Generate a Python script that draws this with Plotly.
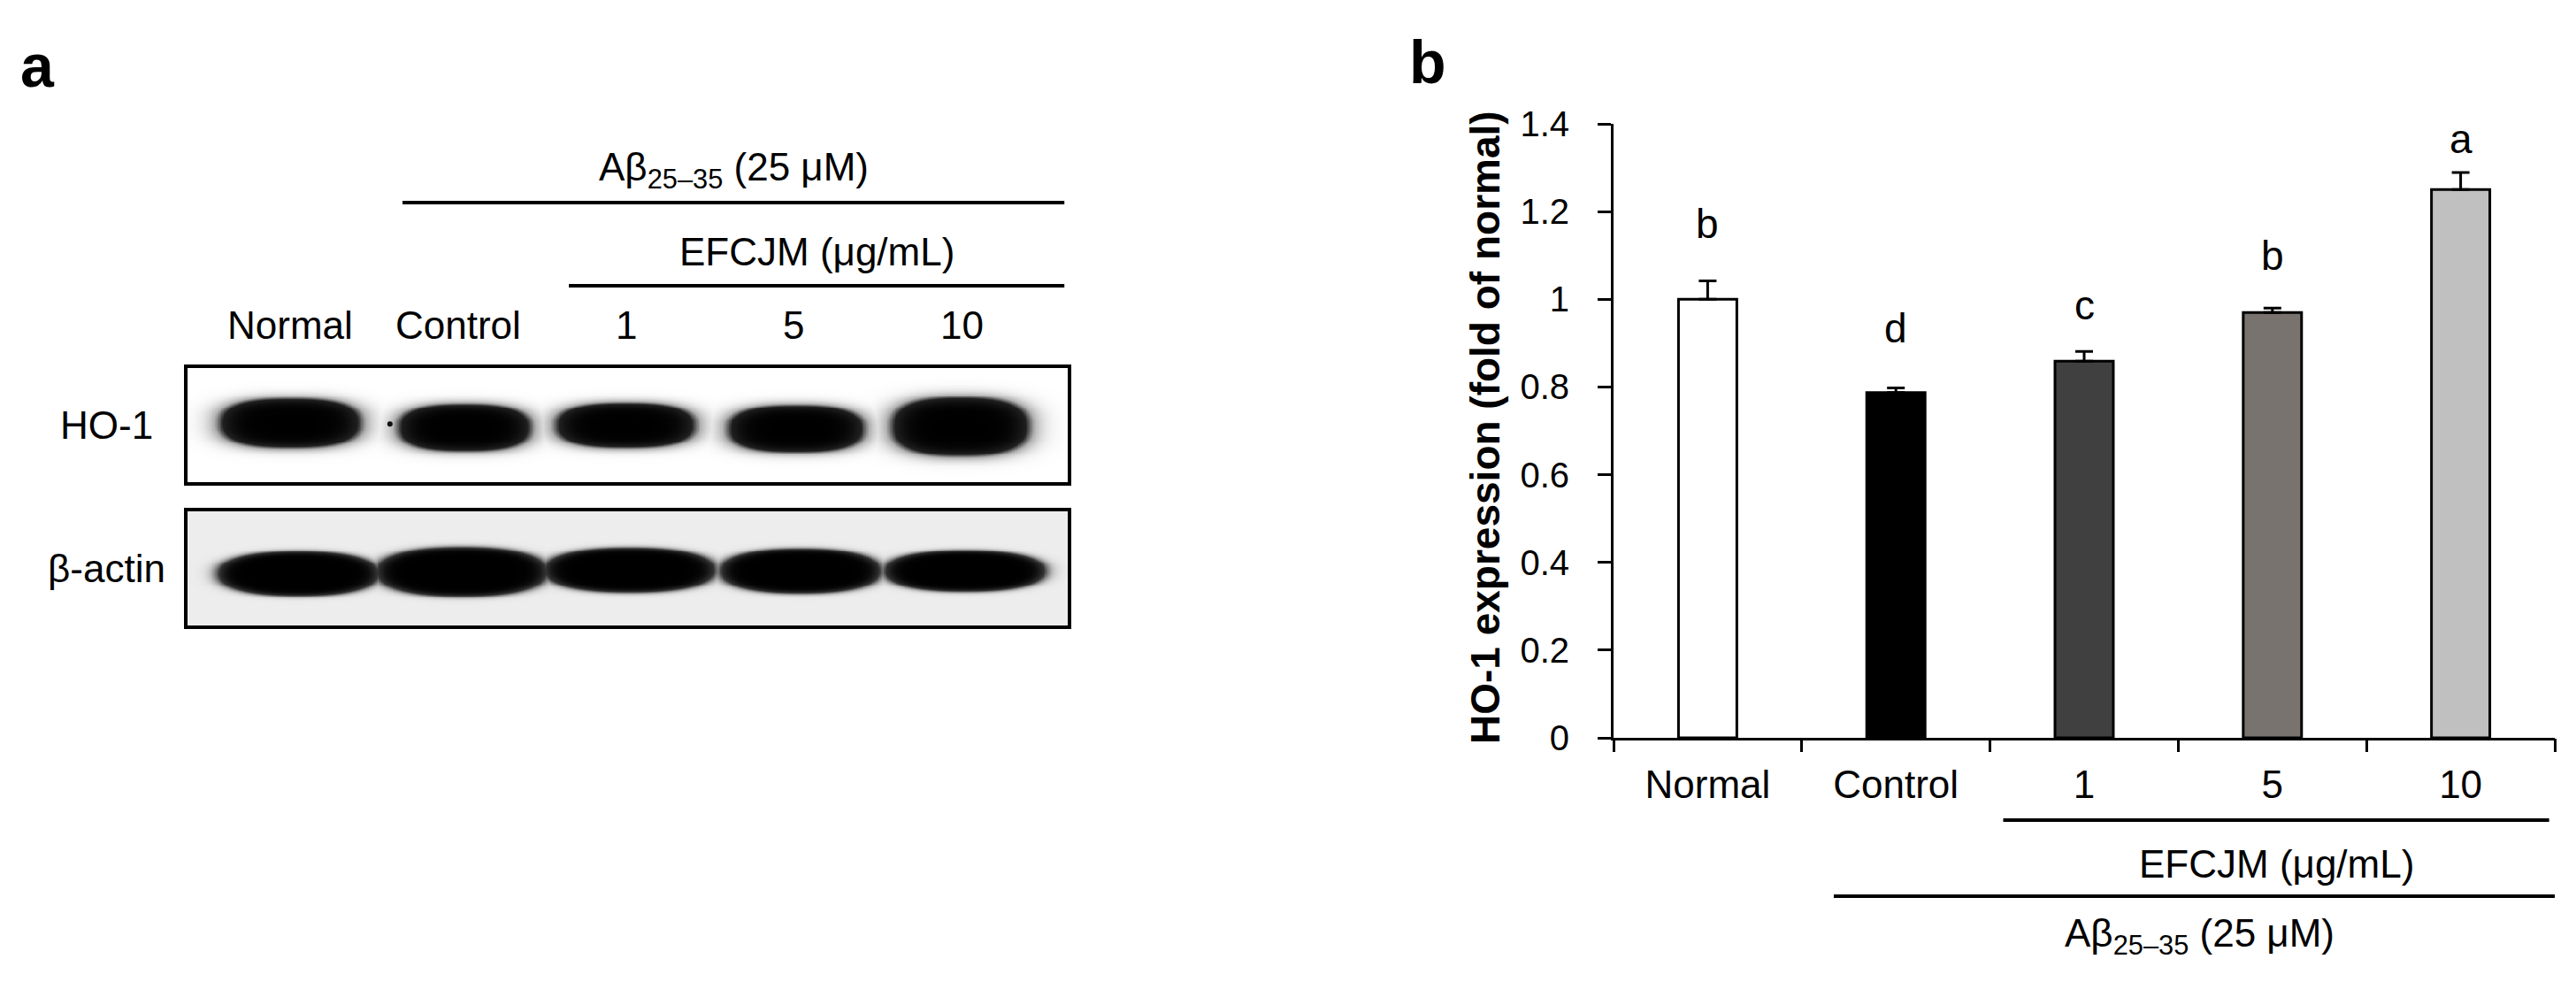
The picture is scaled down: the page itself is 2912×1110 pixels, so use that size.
import numpy as np
import plotly.graph_objects as go

# ---------------- data ----------------
lanes = ["Normal", "Control", "1", "5", "10"]
ho1_mean = [1.00, 0.787, 0.859, 0.970, 1.250]
ho1_sem = [0.042, 0.011, 0.022, 0.010, 0.039]
sig_letters = ["b", "d", "c", "b", "a"]
letter_y = [1.172, 0.934, 0.986, 1.099, 1.366]
bar_colors = ["#ffffff", "#000000", "#404040", "#78736f", "#c0c0c0"]
y_ticks = [0, 0.2, 0.4, 0.6, 0.8, 1.0, 1.2, 1.4]
abeta_lanes = ["Control", "1", "5", "10"]
efcjm_lanes = ["1", "5", "10"]
abeta_label = "Aβ<sub>25–35</sub> (25 μM)"
efcjm_label = "EFCJM (μg/mL)"
blot_rows = ["HO-1", "β-actin"]

# western blot band readings (lane offset, half width, centre height, half height)
ho1_band_shift = [0.0, 1.037, 1.995, 3.011, 3.989]
ho1_band_halfw = [0.41, 0.385, 0.405, 0.395, 0.40]
ho1_band_yc = [0.52, 0.48, 0.50, 0.47, 0.49]
ho1_band_halfh = [0.21, 0.20, 0.19, 0.20, 0.25]
actin_band_shift = [0.047, 1.021, 2.02, 3.037, 4.016]
actin_band_halfw = [0.47, 0.50, 0.50, 0.47, 0.47]
actin_band_yc = [0.457, 0.473, 0.488, 0.48, 0.48]
actin_band_halfh = [0.19, 0.21, 0.19, 0.19, 0.175]

FONT = "Arial, Liberation Sans, sans-serif"
W, H = 2912, 1110


def py(p):
    return 1 - p / H


def px(p):
    return p / W


def band_image(xs, ys, shift, hw, yc, hh, soft, p):
    X, Y = np.meshgrid(xs, ys)
    z = np.zeros_like(X)
    for c, w, y0, h in zip(shift, hw, yc, hh):
        r = (np.abs((X - c) / w) ** p + np.abs((Y - y0) / h) ** p) ** (1.0 / p)
        v = 1.0 / (1.0 + np.exp((r - 1.0) / soft))
        z = np.maximum(z, v)
    return z


def txt(**kw):
    base = dict(showarrow=False, xanchor="center", yanchor="middle")
    base.update(kw)
    return base


fig = go.Figure()

# ---------------- panel b: bar chart ----------------
x_idx = list(range(len(lanes)))
fig.add_trace(go.Bar(
    x=x_idx, y=ho1_mean, width=0.31,
    marker=dict(color=bar_colors, line=dict(color="black", width=3)),
    error_y=dict(type="data", array=ho1_sem, arrayminus=[0] * len(lanes),
                 symmetric=False, color="black", thickness=3, width=10),
    xaxis="x", yaxis="y", showlegend=False, hoverinfo="y",
))

for i, (letter, yl) in enumerate(zip(sig_letters, letter_y)):
    fig.add_annotation(**txt(x=i, y=yl, xref="x", yref="y", text=letter,
                             font=dict(family=FONT, size=46, color="black")))

# ---------------- panel a: western blot ----------------
xmin, xmax = -0.61, 4.63
xs = np.linspace(xmin, xmax, 700)
ys = np.linspace(0, 1, 140)
z_ho1 = band_image(xs, ys, ho1_band_shift, ho1_band_halfw, ho1_band_yc,
                   ho1_band_halfh, 0.12, 2.6)
z_act = band_image(xs, ys, actin_band_shift, actin_band_halfw, actin_band_yc,
                   actin_band_halfh, 0.06, 2.3)

fig.add_trace(go.Heatmap(x=xs, y=ys, z=z_ho1, xaxis="x2", yaxis="y2",
                         zmin=0, zmax=1, zsmooth="best", showscale=False,
                         colorscale=[[0, "#ffffff"], [0.3, "#b0b0b0"], [0.55, "#202020"],
                                     [1, "#000000"]],
                         hoverinfo="skip"))
fig.add_trace(go.Heatmap(x=xs, y=ys, z=z_act, xaxis="x3", yaxis="y3",
                         zmin=0, zmax=1, zsmooth="best", showscale=False,
                         colorscale=[[0, "#ededed"], [0.5, "#333333"], [1, "#000000"]],
                         hoverinfo="skip"))
# small speck on the HO-1 membrane
fig.add_trace(go.Scatter(x=[0.595], y=[0.51], mode="markers", xaxis="x2", yaxis="y2",
                         marker=dict(size=6, color="#111111"), showlegend=False,
                         hoverinfo="skip"))

blot_x_domain = [px(212), px(1207)]
blot_axis = dict(range=[xmin, xmax], domain=blot_x_domain, showline=True,
                 mirror=True, linewidth=4, linecolor="black", showticklabels=False,
                 ticks="", showgrid=False, zeroline=False, fixedrange=True,
                 automargin=False)
blot_yaxis = dict(range=[0, 1], showline=True, mirror=True, linewidth=4,
                  linecolor="black", showticklabels=False, ticks="",
                  showgrid=False, zeroline=False, fixedrange=True, automargin=False)

# lane labels
for i, lane in enumerate(lanes):
    fig.add_annotation(**txt(x=i, y=py(368), xref="x2", yref="paper", text=lane,
                             font=dict(family=FONT, size=44, color="black")))

# row labels
for name, yc in zip(blot_rows, [480, 642]):
    fig.add_annotation(**txt(x=px(120), y=py(yc), xref="paper", yref="paper", text=name,
                             font=dict(family=FONT, size=44, color="black")))

# group lines panel a
a_x0 = lanes.index(abeta_lanes[0]) - 0.33
e_x0 = lanes.index(efcjm_lanes[0]) - 0.34
a_x1 = 4.61
fig.add_shape(type="line", xref="x2", yref="paper", x0=a_x0, x1=a_x1,
              y0=py(229), y1=py(229), line=dict(color="black", width=4))
fig.add_shape(type="line", xref="x2", yref="paper", x0=e_x0, x1=a_x1,
              y0=py(323), y1=py(323), line=dict(color="black", width=4))
fig.add_annotation(**txt(x=(a_x0 + a_x1) / 2, y=py(192), xref="x2", yref="paper",
                         text=abeta_label,
                         font=dict(family=FONT, size=44, color="black")))
fig.add_annotation(**txt(x=(e_x0 + a_x1) / 2, y=py(284), xref="x2", yref="paper",
                         text=efcjm_label,
                         font=dict(family=FONT, size=44, color="black")))

# group lines panel b
b_a0 = lanes.index(abeta_lanes[0]) - 0.33
b_e0 = lanes.index(efcjm_lanes[0]) - 0.43
b_a1 = len(lanes) - 0.5
b_e1 = len(lanes) - 0.53
fig.add_shape(type="line", xref="x", yref="paper", x0=b_a0, x1=b_a1,
              y0=py(1013), y1=py(1013), line=dict(color="black", width=4))
fig.add_shape(type="line", xref="x", yref="paper", x0=b_e0, x1=b_e1,
              y0=py(927), y1=py(927), line=dict(color="black", width=4))
fig.add_annotation(**txt(x=(b_e0 + b_e1) / 2, y=py(976), xref="x", yref="paper",
                         text=efcjm_label,
                         font=dict(family=FONT, size=44, color="black")))
fig.add_annotation(**txt(x=(b_a0 + b_a1) / 2 + 0.03, y=py(1058), xref="x", yref="paper",
                         text=abeta_label,
                         font=dict(family=FONT, size=44, color="black")))

# y-axis title
fig.add_annotation(**txt(x=px(1679), y=py(483), xref="paper", yref="paper",
                         text="<b>HO-1 expression (fold of normal)</b>", textangle=-90,
                         font=dict(family=FONT, size=46, color="black")))

# panel letters
fig.add_annotation(**txt(x=px(42), y=py(74), xref="paper", yref="paper", text="<b>a</b>",
                         font=dict(family=FONT, size=68, color="black")))
fig.add_annotation(**txt(x=px(1614), y=py(70), xref="paper", yref="paper", text="<b>b</b>",
                         font=dict(family=FONT, size=68, color="black")))

fig.update_layout(
    template="none",
    width=W, height=H, autosize=False,
    margin=dict(l=0, r=0, t=0, b=0, pad=0),
    paper_bgcolor="white", plot_bgcolor="rgba(0,0,0,0)",
    font=dict(family=FONT, color="black"),
    showlegend=False,
    xaxis=dict(type="linear", range=[-0.5, len(lanes) - 0.5], domain=[px(1824), px(2888)],
               anchor="y", showline=True, linewidth=3, linecolor="black",
               tickvals=x_idx, ticktext=lanes,
               ticks="", showgrid=False, zeroline=False,
               tickfont=dict(family=FONT, size=44, color="black"),
               ticklabelstandoff=12, fixedrange=True, automargin=False),
    xaxis4=dict(overlaying="x", anchor="y", range=[-0.5, len(lanes) - 0.5],
                domain=[px(1824), px(2888)],
                tickvals=[i - 0.5 for i in range(len(lanes) + 1)],
                showticklabels=False, ticks="outside", ticklen=15, tickwidth=3,
                tickcolor="black", showgrid=False, zeroline=False, showline=False,
                fixedrange=True, automargin=False),
    yaxis=dict(range=[0, 1.4], domain=[py(834), py(140)], anchor="x",
               tickvals=y_ticks, ticktext=[f"{v:g}" for v in y_ticks],
               showline=True, linewidth=3, linecolor="black",
               ticks="outside", ticklen=15, tickwidth=3, tickcolor="black",
               showgrid=False, zeroline=False,
               tickfont=dict(family=FONT, size=40, color="black"),
               ticklabelstandoff=24, fixedrange=True, automargin=False),
    xaxis2=dict(anchor="y2", **blot_axis),
    yaxis2=dict(anchor="x2", domain=[py(545), py(416)], **blot_yaxis),
    xaxis3=dict(anchor="y3", **blot_axis),
    yaxis3=dict(anchor="x3", domain=[py(707), py(578)], **blot_yaxis),
)
# invisible helper trace so the boundary-tick axis is drawn
fig.add_trace(go.Scatter(x=[None], y=[None], xaxis="x4", yaxis="y",
                         showlegend=False, hoverinfo="skip"))

fig.write_html("out.html", config={"displayModeBar": False},
               post_script="document.body.style.margin='0';")
